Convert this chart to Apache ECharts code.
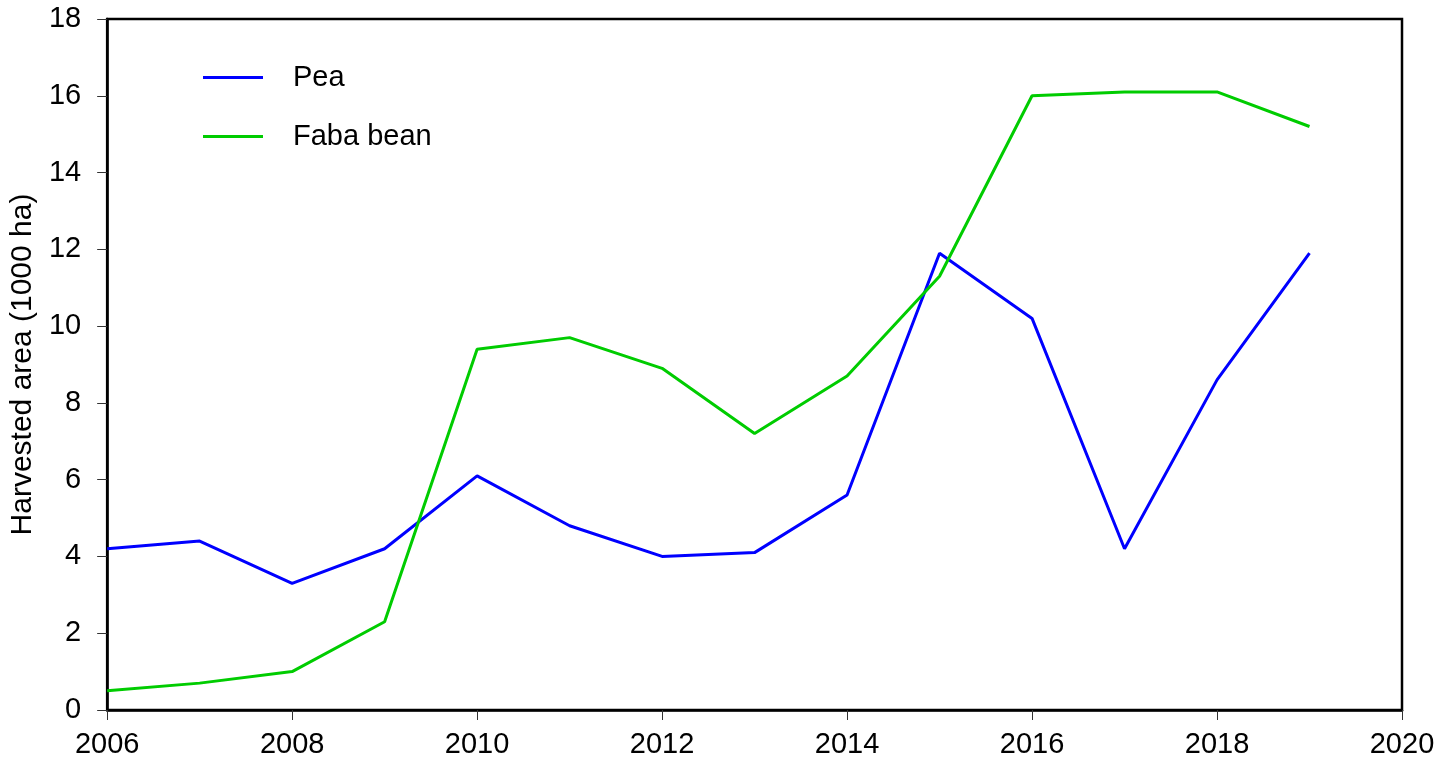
<!DOCTYPE html>
<html>
<head>
<meta charset="utf-8">
<script src="https://cdn.jsdelivr.net/npm/echarts@6/dist/echarts.min.js"></script>
<style>html,body{margin:0;padding:0;background:#fff;}#chart{width:1451px;height:760px;}</style>
</head>
<body>
<div id="chart"></div>
<script>
const years = [2006,2007,2008,2009,2010,2011,2012,2013,2014,2015,2016,2017,2018,2019];
const pea = [4.2,4.4,3.3,4.2,6.1,4.8,4.0,4.1,5.6,11.9,10.2,4.2,8.6,11.9];
const faba = [0.5,0.7,1.0,2.3,9.4,9.7,8.9,7.2,8.7,11.3,16.0,16.1,16.1,15.2];
const seriesNames = ['Pea','Faba bean'];
const yTitle = 'Harvested area (1000 ha)';

const FONT = '"Liberation Sans", Arial, Helvetica, sans-serif';
const chart = echarts.init(document.getElementById('chart'), null, {renderer:'canvas'});
const pair = (xs, ys) => xs.map((x,i)=>[x, ys[i]]);
chart.setOption({
  animation:false,
  backgroundColor:'#fff',
  grid:{left:105.5,right:49,top:19,bottom:50,show:true,borderColor:'#000',borderWidth:2.5,backgroundColor:'transparent'},
  legend:{
    orient:'vertical', left:198, top:58,
    itemWidth:60, itemHeight:30, itemGap:30,
    icon:'path://M0,13.5 L60,13.5 L60,16.5 L0,16.5 Z',
    textStyle:{fontFamily:FONT,fontSize:29,color:'#000',padding:[0,0,0,25]},
    data:seriesNames
  },
  xAxis:{
    type:'value', min:2006, max:2020, interval:2,
    axisLine:{show:true,lineStyle:{color:'#000',width:2.5}},
    axisTick:{show:true,length:10,lineStyle:{color:'#333',width:1}},
    axisLabel:{fontFamily:FONT,fontSize:29,color:'#000',margin:20,formatter:v=>String(v)},
    splitLine:{show:false}
  },
  yAxis:{
    type:'value', min:0, max:18, interval:2,
    name:yTitle, nameLocation:'middle', nameGap:59,
    nameTextStyle:{fontFamily:FONT,fontSize:30,color:'#000'},
    axisLine:{show:true,lineStyle:{color:'#000',width:2.5}},
    axisTick:{show:true,length:10,lineStyle:{color:'#333',width:1}},
    axisLabel:{fontFamily:FONT,fontSize:29,color:'#000',margin:26},
    splitLine:{show:false}
  },
  series:[
    {name:seriesNames[0],type:'line',data:pair(years,pea),symbol:'none',lineStyle:{color:'#0000ff',width:3},itemStyle:{color:'#0000ff'}},
    {name:seriesNames[1],type:'line',data:pair(years,faba),symbol:'none',lineStyle:{color:'#00cc00',width:3},itemStyle:{color:'#00cc00'}}
  ]
});
</script>
</body>
</html>
